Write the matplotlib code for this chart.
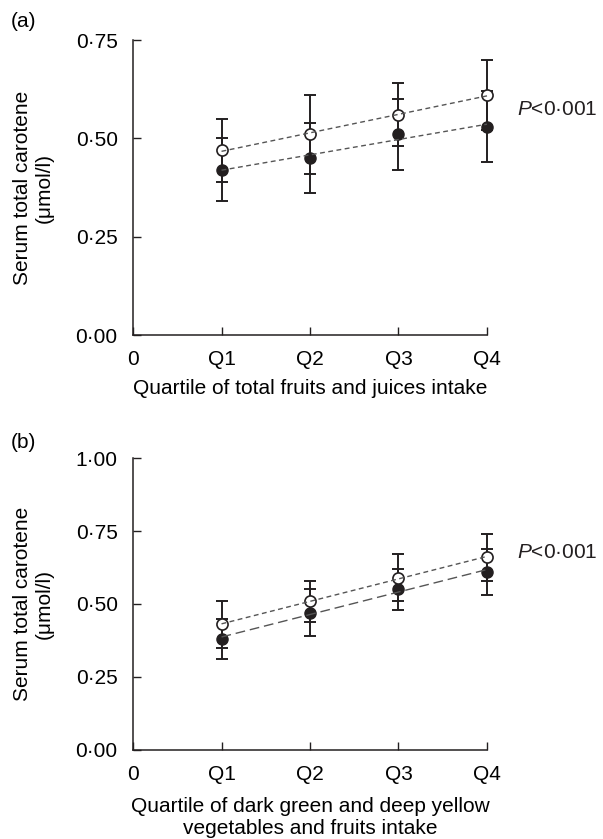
import numpy as np
import matplotlib
matplotlib.use('Agg')
import matplotlib.pyplot as plt

plt.rcParams['font.family'] = ['Liberation Sans', 'DejaVu Sans']
plt.rcParams['mathtext.fontset'] = 'custom'
plt.rcParams['mathtext.it'] = 'Liberation Sans:italic'
plt.rcParams['mathtext.rm'] = 'Liberation Sans'

# quartile positions and labels
quartiles = [1, 2, 3, 4]
xtick_labels = ['0', 'Q1', 'Q2', 'Q3', 'Q4']

# panel (a): total fruits and juices
a_open = [0.47, 0.51, 0.56, 0.61]
a_open_err = [0.08, 0.10, 0.08, 0.09]
a_filled = [0.42, 0.45, 0.51, 0.53]
a_filled_err = [0.08, 0.09, 0.09, 0.09]
a_yticks = [0.0, 0.25, 0.50, 0.75]
a_ylabels = ['0·00', '0·25', '0·50', '0·75']

# panel (b): dark green and deep yellow vegetables and fruits
b_open = [0.43, 0.51, 0.59, 0.66]
b_open_err = [0.08, 0.07, 0.08, 0.08]
b_filled = [0.38, 0.47, 0.55, 0.61]
b_filled_err = [0.07, 0.08, 0.07, 0.08]
b_yticks = [0.0, 0.25, 0.50, 0.75, 1.00]
b_ylabels = ['0·00', '0·25', '0·50', '0·75', '1·00']

ink = '#231f20'
fs = 15

fig = plt.figure(figsize=(6.03, 8.39), dpi=100)
ax_a = fig.add_axes([0.2206, 0.6007, 0.5870, 0.3516])
ax_b = fig.add_axes([0.2206, 0.1061, 0.5870, 0.3480])


def draw_panel(ax, opn, opn_err, fil, fil_err, yticks, ylabels, ymax,
               filled_dash, xlabel, p_y):
    x = np.array(quartiles)
    for vals, err in [(opn, opn_err), (fil, fil_err)]:
        ax.errorbar(x, vals, yerr=err, fmt='none', ecolor=ink, elinewidth=1.4,
                    capsize=4, capthick=1.4, zorder=2, clip_on=False)
    # trend lines
    for vals, dash in [(opn, (0, (3.5, 2.5))), (fil, filled_dash)]:
        k, b = np.polyfit(x, vals, 1)
        ax.plot(x, k * x + b, color='#555555', lw=1.0, linestyle=dash,
                zorder=4, clip_on=False)
    ax.plot(x, fil, 'o', color=ink, ms=8, zorder=3, clip_on=False)
    ax.plot(x, opn, 'o', mfc='white', mec=ink, mew=1.2, ms=8, zorder=3,
            clip_on=False)

    ax.set_xlim(0, 4)
    ax.set_ylim(0, ymax)
    ax.set_xticks(range(5))
    ax.set_xticklabels(xtick_labels, fontsize=fs)
    ax.set_yticks(yticks)
    ax.set_yticklabels(ylabels, fontsize=fs)
    ax.tick_params(direction='in', length=6, width=1, color=ink, pad=11)
    ax.tick_params(axis='y', pad=11)
    for s in ['top', 'right']:
        ax.spines[s].set_visible(False)
    for s in ['left', 'bottom']:
        ax.spines[s].set_color(ink)
        ax.spines[s].set_linewidth(1.1)
    ax.set_ylabel('Serum total carotene\n(μmol/l)', fontsize=fs,
                  va='center', linespacing=1.15)
    ax.yaxis.set_label_coords(-0.282, 0.5)
    ax.set_xlabel(xlabel, fontsize=fs, va='center', linespacing=1.2)
    ax.text(4.34, p_y, '$\\mathit{P}$<0·001', fontsize=fs, va='center',
            ha='left', color=ink)


draw_panel(ax_a, a_open, a_open_err, a_filled, a_filled_err, a_yticks,
           a_ylabels, 0.75, (0, (3.5, 2.5)),
           'Quartile of total fruits and juices intake', 0.573)
ax_a.xaxis.set_label_coords(0.5, -0.183)

draw_panel(ax_b, b_open, b_open_err, b_filled, b_filled_err, b_yticks,
           b_ylabels, 1.0, (0, (7, 3.5)),
           'Quartile of dark green and deep yellow\nvegetables and fruits intake',
           0.675)
ax_b.xaxis.set_label_coords(0.5, -0.231)

fig.text(0.017, 0.974, '(a)', fontsize=fs, va='center', ha='left')
fig.text(0.017, 0.473, '(b)', fontsize=fs, va='center', ha='left')

fig.savefig('out.png', dpi=100)
